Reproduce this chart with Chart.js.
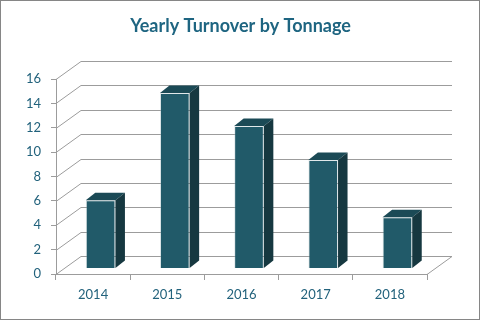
<!DOCTYPE html>
<html>
<head>
<meta charset="utf-8">
<script src="https://cdn.jsdelivr.net/npm/chart.js@4"></script>
<style>
  html, body { margin: 0; padding: 0; background: #fff; }
  #wrap { width: 481px; height: 321px; position: relative; }
</style>
</head>
<body>
<div id="wrap"><canvas id="turnoverChart"></canvas></div>
<script>
// data
const years = ['2014', '2015', '2016', '2017', '2018'];
const tonnage = [5.6, 14.4, 11.7, 8.9, 4.2];
const yTicks = [0, 2, 4, 6, 8, 10, 12, 14, 16];

// fake 3d box settings
const wallDepth = { dx: 25, dy: 18 };
const barShift = { dx: 7.5, dy: 5.5 };
const barDepth = { dx: 9.5, dy: 7.5 };

const gridGray = '#9c9c9c';
const labelBlue = '#22627c';

function ready(fn) {
  if (document.readyState !== 'loading') {
    fn();
  } else {
    document.addEventListener('DOMContentLoaded', fn);
  }
}

ready(function () {
  turnoverChart();
});

const box3d = {
  id: 'box3d',
  beforeDraw(chart) {
    const ctx = chart.ctx;
    ctx.save();
    ctx.strokeStyle = '#868686';
    ctx.lineWidth = 1;
    ctx.strokeRect(0.5, 0.5, 479, 319);
    ctx.restore();
  },
  beforeDatasetsDraw(chart) {
    const ctx = chart.ctx;
    const area = chart.chartArea;
    const y = chart.scales.y;
    ctx.save();
    ctx.strokeStyle = gridGray;
    ctx.lineWidth = 1;
    ctx.beginPath();
    yTicks.forEach(function (v) {
      const py = Math.round(y.getPixelForValue(v)) + 0.5;
      // left wall diagonal
      ctx.moveTo(area.left, py);
      ctx.lineTo(area.left + wallDepth.dx, py - wallDepth.dy);
      // back wall line
      ctx.lineTo(area.right + wallDepth.dx, py - wallDepth.dy);
    });
    // floor right edge
    const by = Math.round(area.bottom) + 0.5;
    ctx.moveTo(area.right, by);
    ctx.lineTo(area.right + wallDepth.dx, by - wallDepth.dy);
    ctx.stroke();
    ctx.restore();

    // bars sit a bit into the box
    ctx.save();
    ctx.translate(barShift.dx, -barShift.dy);
  },
  afterDatasetsDraw(chart) {
    const ctx = chart.ctx;
    const meta = chart.getDatasetMeta(0);
    meta.data.forEach(function (bar) {
      const p = bar.getProps(['x', 'y', 'base', 'width'], true);
      const l = p.x - p.width / 2;
      const r = p.x + p.width / 2;
      // top face
      ctx.fillStyle = '#1b4a56';
      ctx.beginPath();
      ctx.moveTo(l, p.y);
      ctx.lineTo(r, p.y);
      ctx.lineTo(r + barDepth.dx, p.y - barDepth.dy);
      ctx.lineTo(l + barDepth.dx, p.y - barDepth.dy);
      ctx.closePath();
      ctx.fill();
      // side face
      ctx.fillStyle = '#163840';
      ctx.beginPath();
      ctx.moveTo(r, p.y);
      ctx.lineTo(r + barDepth.dx, p.y - barDepth.dy);
      ctx.lineTo(r + barDepth.dx, p.base - barDepth.dy);
      ctx.lineTo(r, p.base);
      ctx.closePath();
      ctx.fill();
    });
    ctx.restore();
  }
};

function turnoverChart() {
  const ctx = document.getElementById('turnoverChart').getContext('2d');

  Chart.defaults.font.family = 'Lato';
  Chart.defaults.color = labelBlue;

  const config = {
    type: 'bar',
    data: {
      labels: years,
      datasets: [
        {
          label: 'Turnover',
          data: tonnage,
          backgroundColor: '#215a69',
          borderColor: 'rgba(170,190,196,0.35)',
          borderWidth: 1,
          barPercentage: 0.4,
          categoryPercentage: 1
        }
      ]
    },
    options: {
      responsive: true,
      maintainAspectRatio: false,
      animation: false,
      layout: {
        padding: 0
      },
      plugins: {
        legend: { display: false },
        tooltip: { enabled: false },
        title: {
          display: true,
          text: 'Yearly Turnover by Tonnage',
          color: '#1e6581',
          font: { size: 18, weight: 'bold' },
          padding: { top: 15, bottom: 42.4 }
        }
      },
      scales: {
        y: {
          min: 0,
          max: 16,
          ticks: { stepSize: 2, padding: 10, font: { size: 13 } },
          grid: { drawOnChartArea: false, tickLength: 5, color: gridGray },
          border: { color: gridGray },
          afterFit: function (scale) { scale.width = 56; }
        },
        // empty right axis, keeps room for the box depth
        yRoom: {
          position: 'right',
          min: 0,
          max: 16,
          ticks: { display: false },
          grid: { display: false },
          border: { display: false },
          afterFit: function (scale) { scale.width = 54; }
        },
        x: {
          ticks: { padding: 7, font: { size: 13 } },
          grid: { drawOnChartArea: false, tickLength: 6, color: gridGray, offset: true },
          border: { color: gridGray },
          afterFit: function (scale) { scale.height = 47; }
        }
      }
    },
    plugins: [box3d]
  };
  new Chart(ctx, config);
}
</script>
</body>
</html>
